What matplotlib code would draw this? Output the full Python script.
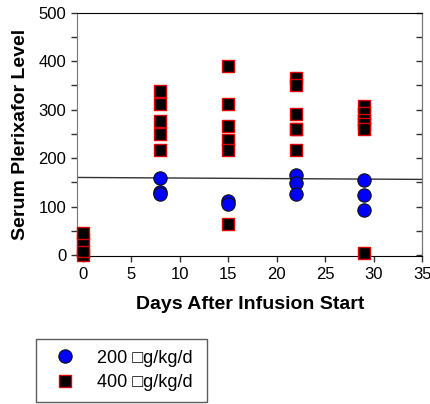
import matplotlib
matplotlib.use("Agg")
import matplotlib.pyplot as plt
from matplotlib.ticker import MultipleLocator

plt.rcParams['font.family'] = ['Liberation Sans', 'DejaVu Sans']

# Data
days_200 = [8, 8, 8, 15, 15, 22, 22, 22, 29, 29, 29]
level_200 = [158, 130, 126, 112, 106, 165, 149, 125, 154, 123, 93]

days_400 = [0, 0, 0, 0,
            8, 8, 8, 8, 8,
            15, 15, 15, 15, 15, 15,
            22, 22, 22, 22, 22, 22,
            29, 29, 29, 29, 29, 29]
level_400 = [0, 9, 30, 45,
             339, 311, 277, 250, 217,
             391, 311, 266, 238, 216, 65,
             365, 350, 290, 261, 259, 216,
             308, 294, 278, 271, 259, 5]

trend_x = [-0.5, 35]
trend_y = [160, 156]

legend_labels = ["200 \u25a1g/kg/d", "400 \u25a1g/kg/d"]
xlabel = "Days After Infusion Start"
ylabel = "Serum Plerixafor Level"

fig = plt.figure(figsize=(4.31, 4.04), dpi=100)
ax = fig.add_axes([0.1798, 0.367, 0.8, 0.6016])

ax.plot(trend_x, trend_y, color='#333333', lw=1.0, zorder=2)
h1, = ax.plot(days_200, level_200, 'o', ms=9.6, mfc='#0000ff', mec='#111111',
              mew=0.8, ls='none', clip_on=False, zorder=3)
h2, = ax.plot(days_400, level_400, 's', ms=8.0, mfc='black', mec='#e00000',
              mew=1.0, ls='none', clip_on=False, zorder=4)

ax.set_xlim(-0.54, 35)
ax.set_ylim(-1.5, 500)
ax.xaxis.set_major_locator(MultipleLocator(5))
ax.yaxis.set_major_locator(MultipleLocator(100))
ax.yaxis.set_minor_locator(MultipleLocator(50))

ax.tick_params(axis='both', which='both', direction='out', length=4, width=1,
               labelsize=12, color='#333333', pad=4)
ax.tick_params(axis='x', which='both', top=False)
ax.tick_params(axis='y', which='both', right=False)
sec = ax.secondary_yaxis('right')
sec.yaxis.set_major_locator(MultipleLocator(50))
sec.tick_params(direction='in', length=4, width=1, labelright=False, color='#333333')
sec.spines['right'].set_color('#555555')

for s in ['left', 'right']:
    ax.spines[s].set_color('#777777')
for s in ['top', 'bottom']:
    ax.spines[s].set_color('black')

ax.set_xlabel(xlabel, fontsize=14, fontweight='bold', labelpad=10)
ax.set_ylabel(ylabel, fontsize=14, fontweight='bold', labelpad=7)

leg = fig.legend([h1, h2], legend_labels, loc='upper left',
                 bbox_to_anchor=(0.0835, 0.161, 0.396, 0.0),
                 mode='expand', fontsize=13, frameon=True, fancybox=False,
                 edgecolor='#333333', borderpad=0.6, handletextpad=0.8,
                 labelspacing=0.4, borderaxespad=0.0, handlelength=2.0)
leg.get_frame().set_linewidth(1.0)

fig.savefig('out.png', dpi=100)
